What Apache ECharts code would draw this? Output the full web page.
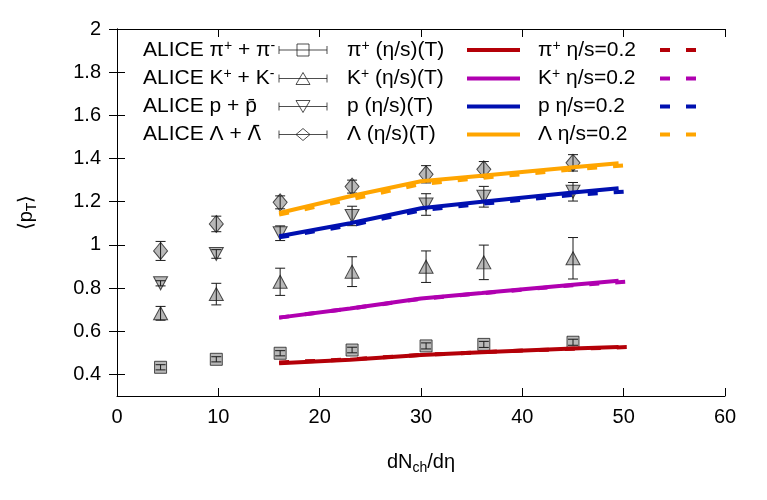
<!DOCTYPE html>
<html><head><meta charset="utf-8">
<script src="https://cdn.jsdelivr.net/npm/echarts@6/dist/echarts.min.js"></script>
<style>html,body{margin:0;padding:0;background:#fff}#c{width:767px;height:500px}</style>
</head><body><div id="c"></div>
<script>
// ---- data ----
const xData = [4.3, 9.8, 16.1, 23.2, 30.5, 36.2, 45.0];
const piVal = [0.433, 0.470, 0.498, 0.513, 0.532, 0.539, 0.549];
const piErr = [0.012, 0.012, 0.012, 0.013, 0.014, 0.014, 0.014];
const kVal = [0.683, 0.772, 0.829, 0.876, 0.899, 0.919, 0.938];
const kErr = [0.032, 0.050, 0.063, 0.069, 0.073, 0.080, 0.096];
const pVal = [0.822, 0.958, 1.054, 1.134, 1.187, 1.223, 1.246];
const pErr = [0.012, 0.020, 0.034, 0.045, 0.050, 0.048, 0.043];
const lamVal = [0.972, 1.097, 1.197, 1.270, 1.327, 1.350, 1.380];
const lamErr = [0.044, 0.036, 0.030, 0.030, 0.040, 0.036, 0.038];

const modelXT = [16, 23, 30, 36, 45, 49.5];
const piT = [0.452, 0.468, 0.490, 0.503, 0.520, 0.527];
const kT = [0.663, 0.705, 0.752, 0.777, 0.815, 0.834];
const pT = [1.040, 1.100, 1.170, 1.200, 1.243, 1.262];
const lamT = [1.148, 1.225, 1.295, 1.320, 1.360, 1.378];

const modelX02 = [16, 23, 30, 36, 45, 51.3];
const pi02 = [0.455, 0.470, 0.490, 0.503, 0.519, 0.528];
const k02 = [0.663, 0.705, 0.750, 0.776, 0.813, 0.833];
const p02 = [1.035, 1.090, 1.160, 1.190, 1.232, 1.250];
const lam02 = [1.140, 1.210, 1.282, 1.310, 1.350, 1.372];

const xTicks = [0, 10, 20, 30, 40, 50, 60];
const yTicks = [0.4, 0.6, 0.8, 1.0, 1.2, 1.4, 1.6, 1.8, 2.0];

const names = {
  dPi: 'ALICE π+ + π-', dK: 'ALICE K+ + K-', dP: 'ALICE p + pbar', dL: 'ALICE Λ + Λbar',
  tPi: 'π+ (η/s)(T)', tK: 'K+ (η/s)(T)', tP: 'p (η/s)(T)', tL: 'Λ (η/s)(T)',
  cPi: 'π+ η/s=0.2', cK: 'K+ η/s=0.2', cP: 'p η/s=0.2', cL: 'Λ η/s=0.2'
};
const richNames = {};
richNames[names.dPi] = '{a|ALICE π}{sup|+}{a| + π}{sup|-}';
richNames[names.dK] = '{a|ALICE K}{sup|+}{a| + K}{sup|-}';
richNames[names.dP] = '{a|ALICE p + p\u0304}';
richNames[names.dL] = '{a|ALICE Λ + }{dj|Λ\u0304}';
richNames[names.tPi] = '{a|π}{sup|+}{a| (η/s)(T)}';
richNames[names.tK] = '{a|K}{sup|+}{a| (η/s)(T)}';
richNames[names.tP] = '{a|p (η/s)(T)}';
richNames[names.tL] = '{a|Λ (η/s)(T)}';
richNames[names.cPi] = '{a|π}{sup|+}{a| η/s=0.2}';
richNames[names.cK] = '{a|K}{sup|+}{a| η/s=0.2}';
richNames[names.cP] = '{a|p η/s=0.2}';
richNames[names.cL] = '{a|Λ η/s=0.2}';

const colors = { pi: '#b40008', k: '#b000b0', p: '#0010b0', lam: '#ffa500' };
const FONT = "'Liberation Sans', Arial, Helvetica, sans-serif";

function zip(xs, ys) { return xs.map((x, i) => [x, ys[i]]); }
function zip3(xs, ys, es) { return xs.map((x, i) => [x, ys[i], es[i]]); }

function errRender(params, api) {
  const x = api.value(0), y = api.value(1), e = api.value(2);
  const lo = api.coord([x, y - e]), hi = api.coord([x, y + e]);
  const w = 5;
  const st = { stroke: '#1a1a1a', lineWidth: 1 };
  return { type: 'group', children: [
    { type: 'line', shape: { x1: lo[0], y1: lo[1], x2: hi[0], y2: hi[1] }, style: st },
    { type: 'line', shape: { x1: lo[0] - w, y1: lo[1], x2: lo[0] + w, y2: lo[1] }, style: st },
    { type: 'line', shape: { x1: hi[0] - w, y1: hi[1], x2: hi[0] + w, y2: hi[1] }, style: st }
  ]};
}

const markStyle = { color: '#a6a6a6', borderColor: '#222', borderWidth: 1 };
function dataSeries(name, vals, errs, symbol, size, rot) {
  return [
    { type: 'scatter', name: name, data: zip(xData, vals), symbol: symbol, symbolSize: size,
      symbolRotate: rot || 0, itemStyle: markStyle, z: 2, silent: true },
    { type: 'custom', name: name + '_err', data: zip3(xData, vals, errs), renderItem: errRender, z: 3, silent: true }
  ];
}
function lineSeries(name, xs, ys, color, dashed) {
  return { type: 'line', name: name, data: zip(xs, ys), symbol: 'none', smooth: false, z: 4, silent: true,
    itemStyle: { color: color },
    lineStyle: { color: color, width: 4, type: dashed ? [10, 16] : 'solid' } };
}

const richStyle = {
  a: { fontSize: 21, lineHeight: 22, fontFamily: FONT, color: '#000', align: 'left' },
  dj: { fontSize: 20, lineHeight: 22, fontFamily: "'DejaVu Sans'", color: '#000', align: 'left' },
  sup: { fontSize: 14, lineHeight: 14, verticalAlign: 'top', fontFamily: FONT, color: '#000', align: 'left' }
};
function legendFmt(n) { return richNames[n] || n; }
const legIconStyle = { color: 'transparent', borderColor: '#222', borderWidth: 1 };
const hiddenSym = { color: 'transparent', borderColor: 'transparent', borderWidth: 0, opacity: 0 };
const errIcon = 'path://M0,6H48M0,2V10M48,2V10';
function lineLegend(list) { return list.map(n => ({ name: n, itemStyle: hiddenSym })); }

const option = {
  animation: false,
  backgroundColor: '#fff',
  grid: { left: 117, right: 42, top: 29, bottom: 104, show: false },
  legend: [
    { left: 143, top: 39, padding: 0, orient: 'vertical', align: 'right', itemGap: 7, itemWidth: 48, itemHeight: 12,
      selectedMode: false, formatter: legendFmt,
      textStyle: { width: 131, align: 'left', rich: richStyle },
      data: [
        { name: names.dPi, icon: errIcon + 'M18,0H30V12H18Z', itemStyle: legIconStyle },
        { name: names.dK, icon: errIcon + 'M17,12L24,0L31,12Z', itemStyle: legIconStyle },
        { name: names.dP, icon: errIcon + 'M17,0L24,12L31,0Z', itemStyle: legIconStyle },
        { name: names.dL, icon: errIcon + 'M17,6L24,0L31,6L24,12Z', itemStyle: legIconStyle }
      ] },
    { left: 347, top: 39, padding: 0, orient: 'vertical', align: 'right', itemGap: 7, itemWidth: 53, itemHeight: 12,
      selectedMode: false, formatter: legendFmt, lineStyle: { width: 4 },
      textStyle: { width: 115, align: 'left', rich: richStyle },
      data: lineLegend([names.tPi, names.tK, names.tP, names.tL]) },
    { left: 538, top: 39, padding: 0, orient: 'vertical', align: 'right', itemGap: 7, itemWidth: 37, itemHeight: 12,
      selectedMode: false, formatter: legendFmt, lineStyle: { width: 4 },
      textStyle: { width: 117, align: 'left', rich: richStyle },
      data: lineLegend([names.cPi, names.cK, names.cP, names.cL]) }
  ],
  xAxis: [
    { type: 'value', min: 0, max: 60, interval: 10, position: 'bottom',
      name: '{a|dN}{sub|ch}{a|/dη}', nameLocation: 'middle', nameGap: 53,
      nameTextStyle: { rich: {
        a: { fontSize: 20, lineHeight: 26, fontFamily: FONT, color: '#000' },
        sub: { fontSize: 14, lineHeight: 14, verticalAlign: 'bottom', fontFamily: FONT, color: '#000' } } },
      axisLine: { show: true, lineStyle: { color: '#000', width: 1 } },
      axisTick: { show: true, inside: true, length: 8, lineStyle: { color: '#000' } },
      axisLabel: { show: true, margin: 11, fontSize: 20, fontFamily: FONT, color: '#000',
        customValues: xTicks },
      splitLine: { show: false } },
    { type: 'value', min: 0, max: 60, interval: 10, position: 'top',
      axisLine: { show: true, lineStyle: { color: '#000', width: 1 } },
      axisTick: { show: true, inside: true, length: 8, lineStyle: { color: '#000' } },
      axisLabel: { show: false }, splitLine: { show: false } }
  ],
  yAxis: [
    { type: 'value', min: 0.3, max: 2.0, position: 'left',
      name: '{a|⟨p}{sub|T}{a|⟩}', nameLocation: 'middle', nameGap: 78, nameRotate: 90,
      nameTextStyle: { rich: {
        a: { fontSize: 20, lineHeight: 26, fontFamily: FONT, color: '#000' },
        sub: { fontSize: 14, lineHeight: 14, verticalAlign: 'bottom', fontFamily: FONT, color: '#000' } } },
      axisLine: { show: true, lineStyle: { color: '#000', width: 1 } },
      axisTick: { show: true, inside: true, length: 8, lineStyle: { color: '#000' }, customValues: yTicks },
      axisLabel: { show: true, margin: 16, fontSize: 20, fontFamily: FONT, color: '#000',
        customValues: yTicks,
        formatter: v => (Math.round(v * 10) / 10).toString() },
      splitLine: { show: false } },
    { type: 'value', min: 0.3, max: 2.0, position: 'right',
      axisLine: { show: true, lineStyle: { color: '#000', width: 1 } },
      axisTick: { show: true, inside: true, length: 8, lineStyle: { color: '#000' }, customValues: yTicks },
      axisLabel: { show: false }, splitLine: { show: false } }
  ],
  series: [].concat(
    dataSeries(names.dPi, piVal, piErr, 'rect', [12, 12]),
    dataSeries(names.dK, kVal, kErr, 'triangle', [14, 13]),
    dataSeries(names.dP, pVal, pErr, 'triangle', [14, 13], 180),
    dataSeries(names.dL, lamVal, lamErr, 'diamond', [14, 17]),
    [
      lineSeries(names.tPi, modelXT, piT, colors.pi, false),
      lineSeries(names.tK, modelXT, kT, colors.k, false),
      lineSeries(names.tP, modelXT, pT, colors.p, false),
      lineSeries(names.tL, modelXT, lamT, colors.lam, false),
      lineSeries(names.cPi, modelX02, pi02, colors.pi, true),
      lineSeries(names.cK, modelX02, k02, colors.k, true),
      lineSeries(names.cP, modelX02, p02, colors.p, true),
      lineSeries(names.cL, modelX02, lam02, colors.lam, true)
    ]
  )
};
const chart = echarts.init(document.getElementById('c'), null, { renderer: 'canvas' });
chart.setOption(option);
</script></body></html>
